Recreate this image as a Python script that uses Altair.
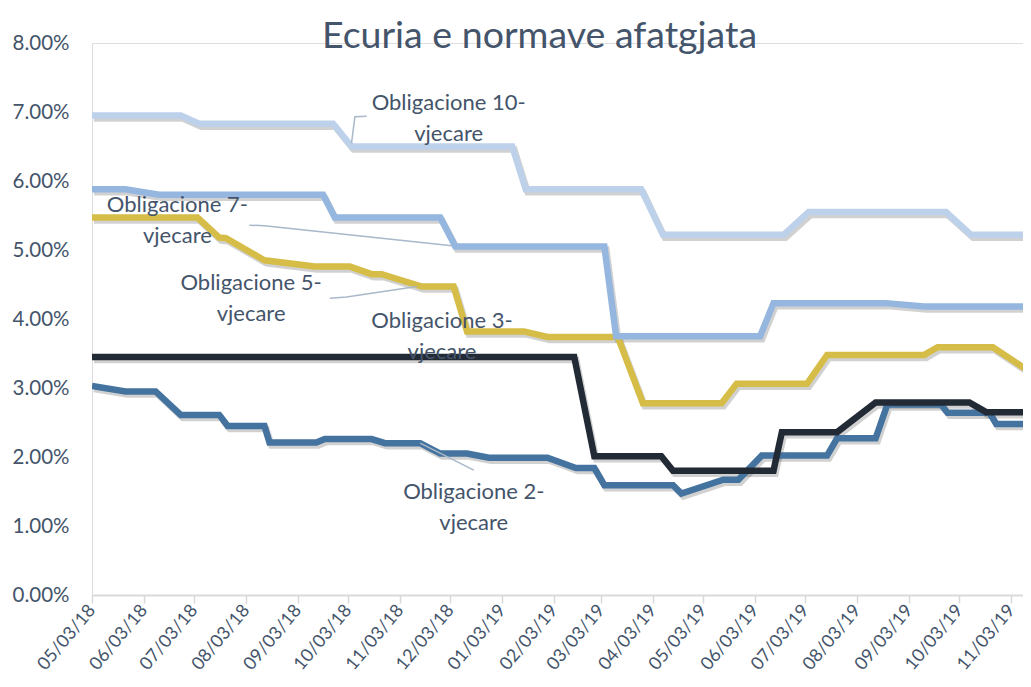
import altair as alt
import pandas as pd

# ---------------- data (values in %) ----------------
bond2_dates = ["2018-05-03", "2018-05-23", "2018-06-10", "2018-06-25", "2018-07-18", "2018-07-23",
               "2018-08-14", "2018-08-17", "2018-09-14", "2018-09-19", "2018-10-17", "2018-10-25",
               "2018-11-15", "2018-11-27", "2018-12-13", "2018-12-26", "2019-01-30", "2019-02-16",
               "2019-02-27", "2019-03-05", "2019-04-15", "2019-04-20", "2019-05-15", "2019-05-24",
               "2019-06-07", "2019-07-16", "2019-07-22", "2019-08-14", "2019-08-21", "2019-09-22",
               "2019-09-26", "2019-10-21", "2019-10-25", "2019-11-13", "2019-11-15"]
bond2_values = [3.03, 2.95, 2.95, 2.61, 2.61, 2.45,
                2.45, 2.21, 2.21, 2.26, 2.26, 2.20,
                2.20, 2.05, 2.05, 1.99, 1.99, 1.84,
                1.84, 1.59, 1.59, 1.47, 1.67, 1.67,
                2.02, 2.02, 2.27, 2.27, 2.76, 2.76,
                2.64, 2.64, 2.48, 2.48, 2.25]

bond3_dates = ["2018-05-03", "2019-02-15", "2019-02-27", "2019-04-08", "2019-04-15", "2019-06-14",
               "2019-06-19", "2019-07-22", "2019-08-14", "2019-10-09", "2019-10-19", "2019-11-15"]
bond3_values = [3.45, 3.45, 2.01, 2.01, 1.80, 1.80,
                2.36, 2.36, 2.79, 2.79, 2.65, 2.65]

bond5_dates = ["2018-05-03", "2018-07-05", "2018-07-18", "2018-07-22", "2018-08-14", "2018-09-13",
               "2018-10-04", "2018-10-17", "2018-10-23", "2018-11-16", "2018-12-05", "2018-12-13",
               "2019-01-16", "2019-01-30", "2019-03-13", "2019-03-28", "2019-05-14", "2019-05-23",
               "2019-07-04", "2019-07-16", "2019-09-12", "2019-09-20", "2019-10-23", "2019-11-15"]
bond5_values = [5.47, 5.47, 5.18, 5.17, 4.85, 4.76,
                4.76, 4.65, 4.65, 4.47, 4.47, 3.82,
                3.82, 3.74, 3.74, 2.78, 2.78, 3.06,
                3.06, 3.48, 3.48, 3.59, 3.59, 3.22]

bond7_dates = ["2018-05-03", "2018-05-23", "2018-06-12", "2018-09-18", "2018-09-25", "2018-11-27",
               "2018-12-06", "2019-03-05", "2019-03-12", "2019-06-06", "2019-06-14", "2019-08-20",
               "2019-09-12", "2019-11-15"]
bond7_values = [5.88, 5.88, 5.80, 5.80, 5.47, 5.47,
                5.05, 5.05, 3.75, 3.75, 4.23, 4.23,
                4.18, 4.18]

bond10_dates = ["2018-05-03", "2018-06-25", "2018-07-06", "2018-09-24", "2018-10-05", "2019-01-09",
                "2019-01-17", "2019-03-27", "2019-04-09", "2019-06-20", "2019-07-05", "2019-09-25",
                "2019-10-10", "2019-11-15"]
bond10_values = [6.95, 6.95, 6.83, 6.83, 6.50, 6.50,
                 5.88, 5.88, 5.22, 5.22, 5.55, 5.55,
                 5.22, 5.22]

series_keys = ["2-vjecare", "3-vjecare", "5-vjecare", "7-vjecare", "10-vjecare"]
series_colors = ["#44739F", "#222A35", "#D5BD48", "#95B7DF", "#BDD1EB"]

# annotation labels (text, anchor date, value of the first text line)
label_texts = ["Obligacione 10-\nvjecare", "Obligacione 7-\nvjecare", "Obligacione 5-\nvjecare",
               "Obligacione 3-\nvjecare", "Obligacione 2-\nvjecare"]
label_dates = ["2018-12-02", "2018-06-23", "2018-08-06", "2018-11-28", "2018-12-17"]
label_values = [7.13, 5.65, 4.52, 3.97, 1.49]

# leader lines
leader_groups = ["10", "10", "10", "7", "7", "7", "5", "5", "5", "2", "2"]
leader_dates = ["2018-10-14", "2018-10-07", "2018-10-05",
                "2018-08-05", "2018-08-14", "2018-12-04",
                "2018-09-22", "2018-10-02", "2018-11-13",
                "2018-11-15", "2018-12-17"]
leader_values = [6.94, 6.93, 6.55,
                 5.36, 5.35, 5.06,
                 4.30, 4.32, 4.47,
                 2.20, 1.81]

tick_dates = ["2018-05-03", "2018-06-03", "2018-07-03", "2018-08-03", "2018-09-03", "2018-10-03",
              "2018-11-03", "2018-12-03", "2019-01-03", "2019-02-03", "2019-03-03", "2019-04-03",
              "2019-05-03", "2019-06-03", "2019-07-03", "2019-08-03", "2019-09-03", "2019-10-03",
              "2019-11-03"]
y_ticks = [0, 1, 2, 3, 4, 5, 6, 7, 8]
x_domain = ["2018-05-03", "2019-11-10"]

# ---------------- tables ----------------
rows = []
for key, ds, vs in zip(series_keys,
                       [bond2_dates, bond3_dates, bond5_dates, bond7_dates, bond10_dates],
                       [bond2_values, bond3_values, bond5_values, bond7_values, bond10_values]):
    for i, (d, v) in enumerate(zip(ds, vs)):
        rows.append({"series": key, "date": d, "value": v, "i": i})
df = pd.DataFrame(rows)

labels_df = pd.DataFrame({"text": label_texts, "date": label_dates, "value": label_values})
leader_df = pd.DataFrame({"g": leader_groups, "date": leader_dates, "value": leader_values,
                          "i": list(range(len(leader_dates)))})


def dt(s):
    y, m, d = (int(p) for p in s.split("-"))
    return alt.DateTime(year=y, month=m, date=d, utc=True)


FONT = "Lato"
TEXT_COLOR = "#44546A"

x_enc = alt.X("date:T",
              scale=alt.Scale(type="utc", domain=[dt(x_domain[0]), dt(x_domain[1])]),
              axis=alt.Axis(values=[dt(t) for t in tick_dates],
                            labelExpr="utcFormat(datum.value, '%m/%d/%y')",
                            title=None, grid=False,
                            domainColor="#D9D9D9", domainWidth=2,
                            tickColor="#D9D9D9", tickWidth=1.5, tickSize=8,
                            labelAngle=-50, labelFontSize=18, labelColor=TEXT_COLOR,
                            labelFont=FONT, labelPadding=4, labelOverlap=False,
                            labelFlush=False))
y_enc = alt.Y("value:Q",
              scale=alt.Scale(domain=[0, 8], nice=False, zero=True),
              axis=alt.Axis(values=y_ticks, labelExpr="format(datum.value, '.2f') + '%'",
                            title=None, grid=False, domain=False, ticks=False,
                            labelFontSize=20.5, labelColor=TEXT_COLOR, labelFont=FONT,
                            labelPadding=23))

base = alt.Chart(df)

shadow = base.mark_line(clip=True, strokeWidth=6.5, color="#000000", opacity=0.18,
                        xOffset=2, yOffset=3, strokeJoin="miter").encode(
    x=x_enc, y=y_enc, detail="series:N", order="i:Q")

lines = base.mark_line(clip=True, strokeWidth=6.5, strokeJoin="miter").encode(
    x=x_enc, y=y_enc,
    color=alt.Color("series:N", scale=alt.Scale(domain=series_keys, range=series_colors),
                    legend=None),
    order="i:Q")

leaders = alt.Chart(leader_df).mark_line(color="#A9B8CA", strokeWidth=1.5).encode(
    x=x_enc, y=y_enc, detail="g:N", order="i:Q")

texts = alt.Chart(labels_df).mark_text(font=FONT, fontSize=22, color=TEXT_COLOR,
                                       align="center", baseline="middle",
                                       lineBreak="\n", lineHeight=31).encode(
    x=x_enc, y=y_enc, text="text:N")

chart = alt.layer(shadow, lines, leaders, texts).properties(
    width=931, height=552,
    title=alt.TitleParams("Ecuria e normave afatgjata", font=FONT, fontSize=37.5,
                          fontWeight="normal", color=TEXT_COLOR, anchor="middle",
                          frame="group", dx=-18, offset=-22),
    autosize=alt.AutoSizeParams(type="none"),
    padding={"left": 84, "top": 35, "right": 0, "bottom": 80},
).configure_view(stroke=None).configure(background="white")

chart.save("out.html", embed_options={"renderer": "svg", "actions": False})
